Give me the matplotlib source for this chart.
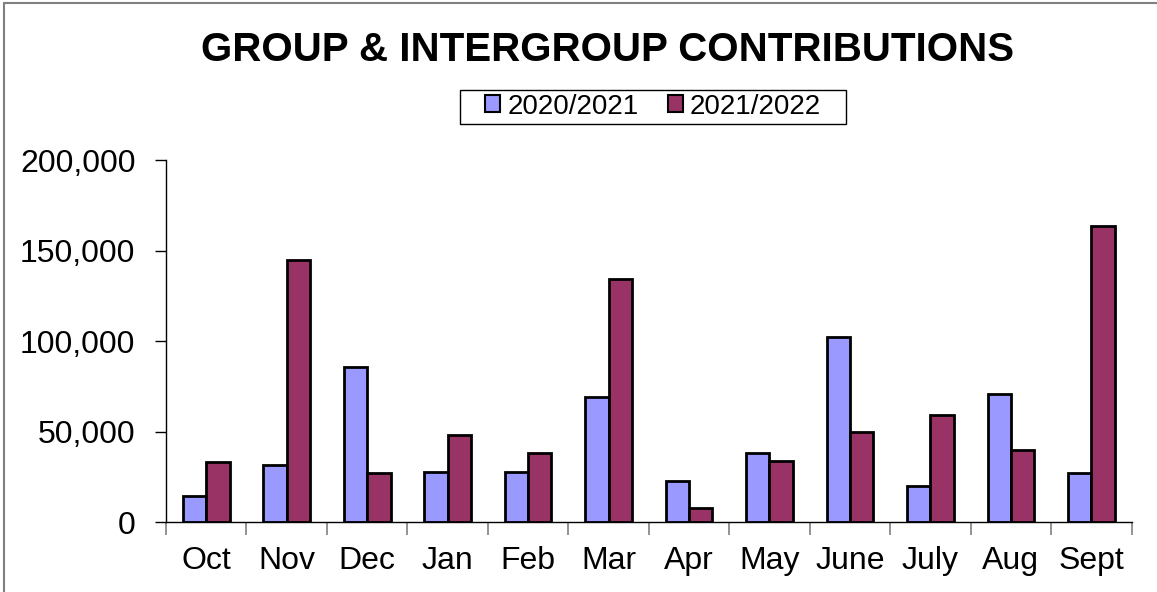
import numpy as np
import matplotlib.pyplot as plt
from matplotlib.patches import Rectangle
from matplotlib.ticker import FuncFormatter

months = ['Oct', 'Nov', 'Dec', 'Jan', 'Feb', 'Mar', 'Apr', 'May', 'June', 'July', 'Aug', 'Sept']
fy_2020_21 = [14400, 31500, 85600, 27600, 27600, 69000, 22600, 38000, 102000, 20000, 71000, 27000]
fy_2021_22 = [33000, 145000, 27000, 48000, 38000, 134000, 7700, 33700, 49700, 59000, 40000, 163500]
series_names = ['2020/2021', '2021/2022']

plt.rcParams['font.family'] = ['Liberation Sans', 'DejaVu Sans']

fig = plt.figure(figsize=(11.57, 5.92), dpi=100)
fig.patches.append(Rectangle((0.0035, -0.1), 1.2, 1.0949, transform=fig.transFigure,
                             fill=False, edgecolor='#808080', linewidth=1.5))

ax = fig.add_axes([0.1435, 0.1182, 0.8345, 0.6115])
x = np.arange(len(months))
w = 0.29
ax.bar(x - w / 2, fy_2020_21, w, color='#9999ff', edgecolor='black', linewidth=2, label=series_names[0])
ax.bar(x + w / 2, fy_2021_22, w, color='#993366', edgecolor='black', linewidth=2, label=series_names[1])

ax.set_xlim(-0.5, len(months) - 0.5)
ax.set_ylim(0, 200000)
ax.set_yticks(range(0, 200001, 50000))
ax.yaxis.set_major_formatter(FuncFormatter(lambda v, p: f'{int(v):,}'))
ax.tick_params(axis='y', labelsize=23, length=8, width=1, direction='out', pad=14)

ax.set_xticks(x)
ax.set_xticklabels(months)
ax.set_xticks(np.arange(-0.5, len(months)), minor=True)
ax.tick_params(axis='x', which='major', length=0, labelsize=23, pad=17)
ax.tick_params(axis='x', which='minor', length=9, width=1.2, color='#808080', direction='out')

for s in ['top', 'right']:
    ax.spines[s].set_visible(False)
ax.spines['left'].set_linewidth(1)
ax.spines['bottom'].set_linewidth(1)

fig.text(0.525, 0.916, 'GROUP & INTERGROUP CONTRIBUTIONS', ha='center', va='center',
         fontsize=29, fontweight='bold')
leg = fig.legend(loc='center', bbox_to_anchor=(0.5644, 0.8201), ncol=2, fontsize=20,
                 frameon=False, handlelength=0.55, handleheight=0.55,
                 handletextpad=0.25, columnspacing=1.05, borderpad=0)
for h in leg.legend_handles:
    h.set_linewidth(1.5)

# legend frame: wider side padding than top/bottom, like the original
fig.canvas.draw()
bb = leg.get_window_extent().transformed(fig.transFigure.inverted())
px, py = 25 / 1157, 4 / 592
fig.patches.append(Rectangle((bb.x0 - px, bb.y0 - py), bb.width + 2 * px, bb.height + 2 * py,
                             transform=fig.transFigure, fill=False, edgecolor='black', linewidth=1))

fig.savefig('out.png', dpi=100)
